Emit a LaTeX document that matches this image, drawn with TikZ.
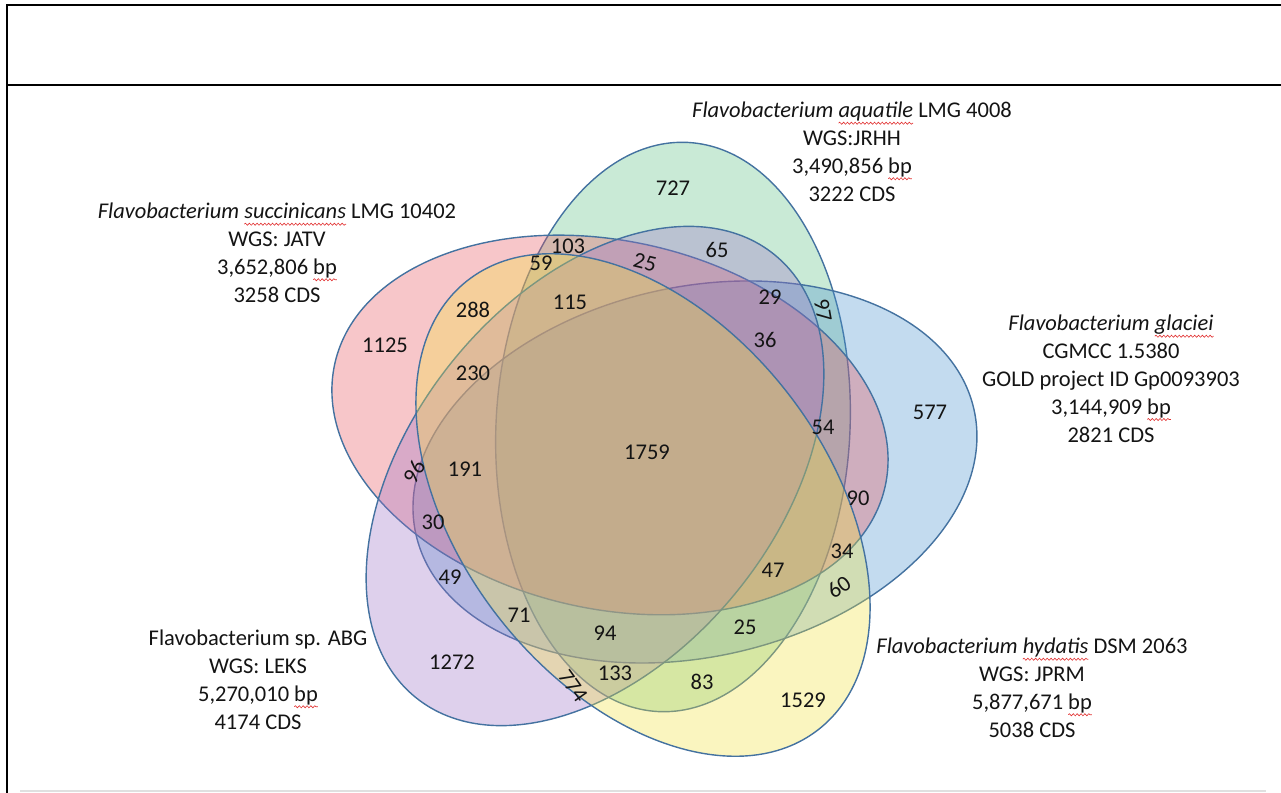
\documentclass[tikz,border=0pt]{standalone}
\usepackage{fontspec}
\setmainfont{Carlito}
\usepackage{xcolor}
\usetikzlibrary{decorations.pathmorphing}

\definecolor{setline}{RGB}{68,114,160}
\definecolor{setred}{RGB}{232,82,92}
\definecolor{setgreen}{RGB}{92,192,132}
\definecolor{setblue}{RGB}{72,145,205}
\definecolor{setyellow}{RGB}{240,225,60}
\definecolor{setpurple}{RGB}{155,112,198}
\definecolor{txt}{RGB}{20,20,20}
\definecolor{wavered}{RGB}{225,50,50}

% red spell-check wave under a word
\newsavebox{\wordbox}
\newcommand{\spellwave}[1]{\sbox{\wordbox}{#1}\rlap{\usebox{\wordbox}}%
\tikz[baseline=0pt,x=1pt,y=1pt]{\path[use as bounding box] (0,0) -- (\wd\wordbox,0);
\draw[wavered,line width=0.35pt,decorate,decoration={snake,amplitude=0.6pt,segment length=2.2pt}] (0,-3pt) -- (\wd\wordbox,-3pt);}}

\begin{document}
\begin{tikzpicture}[x=0.02cm,y=-0.02cm,
set/.style={draw=setline,line width=0.8pt,fill opacity=0.33},
num/.style={font=\fontsize{12.8}{15.8}\selectfont,text=txt,inner sep=0pt},
info/.style={num,align=center,anchor=north},
frame/.style={line width=1.1pt,black}
]
\useasboundingbox (0,0) rectangle (1281,793);

% The frame
\draw[frame] (7,793) -- (7,5) -- (1281,5);
\draw[frame] (7,85) -- (1281,85);
\draw[black!12,line width=0.6pt] (20,791) -- (1266,791);

% The ellipses
\coordinate (cR) at (610,425);
\coordinate (cG) at (673,427);
\coordinate (cB) at (695,472);
\coordinate (cY) at (643,505);
\coordinate (cP) at (595,476);
\filldraw[set,fill=setgreen,rotate around={87:(cG)}] (cG) ellipse [x radius=5.70cm,y radius=3.54cm];
\filldraw[set,fill=setblue,rotate around={12.6:(cB)}] (cB) ellipse [x radius=5.72cm,y radius=3.70cm];
\filldraw[set,fill=setred,rotate around={-12.6:(cR)}] (cR) ellipse [x radius=5.64cm,y radius=3.68cm];
\filldraw[set,fill=setpurple,rotate around={51:(cP)}] (cP) ellipse [x radius=5.70cm,y radius=3.66cm];
\filldraw[set,fill=setyellow,rotate around={128:(cY)}] (cY) ellipse [x radius=5.70cm,y radius=3.66cm];

% The counts
\node[num] (n1125) at (385,345) {1125};
\node[num] (n727) at (673,188) {727};
\node[num] (n577) at (930,412) {577};
\node[num] (n1529) at (803,700) {1529};
\node[num] (n1272) at (452,662) {1272};
\node[num] (n1759) at (647,452) {1759};
\node[num] (n103) at (568,246) {103};
\node[num] (n59) at (541,263) {59};
\node[num,rotate=-14] (n25a) at (645,262) {25};
\node[num] (n65) at (717,250) {65};
\node[num] (n288) at (473,310) {288};
\node[num] (n115) at (570,302) {115};
\node[num] (n29) at (770,297) {29};
\node[num,rotate=-80] (n97) at (823,310) {97};
\node[num] (n36) at (765,340) {36};
\node[num] (n230) at (473,373) {230};
\node[num] (n54) at (823,427) {54};
\node[num,rotate=60] (n96) at (414,472) {96};
\node[num] (n191) at (465,469) {191};
\node[num] (n90) at (858,498) {90};
\node[num] (n30) at (433,522) {30};
\node[num] (n34) at (842,551) {34};
\node[num] (n47) at (773,570) {47};
\node[num,rotate=35] (n60) at (839,587) {60};
\node[num] (n49) at (450,577) {49};
\node[num] (n71) at (519,615) {71};
\node[num] (n94) at (605,633) {94};
\node[num] (n25b) at (745,627) {25};
\node[num,rotate=-55] (n774) at (573,686) {774};
\node[num] (n133) at (615,673) {133};
\node[num] (n83) at (702,682) {83};

% The species
\node[info] (succ) at (277,203) {\textit{Flavobacterium \spellwave{succinicans}} LMG 10402\\WGS: JATV\\3,652,806 \spellwave{bp}\\3258 CDS};
\node[info] (aqua) at (852,102) {\textit{Flavobacterium \spellwave{aquatile}} LMG 4008\\WGS:JRHH\\3,490,856 \spellwave{bp}\\3222 CDS};
\node[info] (glac) at (1111,315) {\textit{Flavobacterium \spellwave{glaciei}}\\CGMCC 1.5380\\GOLD project ID Gp0093903\\3,144,909 \spellwave{bp}\\2821 CDS};
\node[info] (hyda) at (1032,638) {\textit{Flavobacterium \spellwave{hydatis}} DSM 2063\\WGS: JPRM\\5,877,671 \spellwave{bp}\\5038 CDS};
\node[info] (abg) at (258,630) {Flavobacterium sp. ABG\\WGS: LEKS\\5,270,010 \spellwave{bp}\\4174 CDS};
\end{tikzpicture}
\end{document}
